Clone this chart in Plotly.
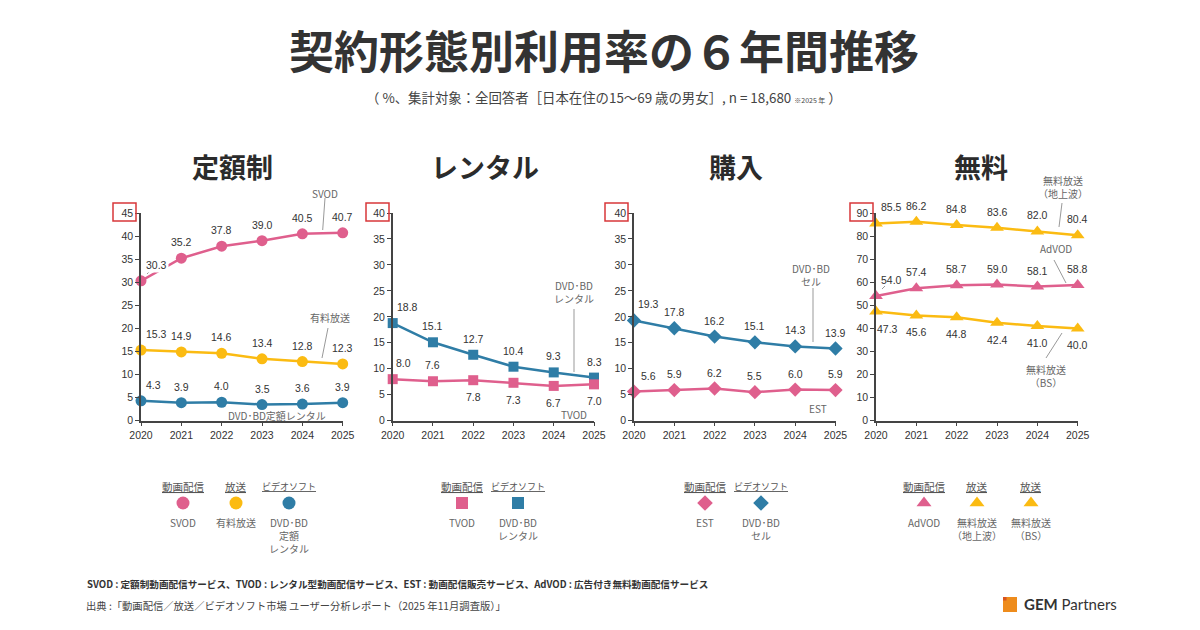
import plotly.graph_objects as go

YEARS = [2020, 2021, 2022, 2023, 2024, 2025]

SVOD = [30.3, 35.2, 37.8, 39.0, 40.5, 40.7]
PAID_TV = [15.3, 14.9, 14.6, 13.4, 12.8, 12.3]
DVD_FLAT = [4.3, 3.9, 4.0, 3.5, 3.6, 3.9]

DVD_RENTAL = [18.8, 15.1, 12.7, 10.4, 9.3, 8.3]
TVOD = [8.0, 7.6, 7.8, 7.3, 6.7, 7.0]

DVD_SELL = [19.3, 17.8, 16.2, 15.1, 14.3, 13.9]
EST = [5.6, 5.9, 6.2, 5.5, 6.0, 5.9]

FREE_TV = [85.5, 86.2, 84.8, 83.6, 82.0, 80.4]
ADVOD = [54.0, 57.4, 58.7, 59.0, 58.1, 58.8]
FREE_BS = [47.3, 45.6, 44.8, 42.4, 41.0, 40.0]

PINK = "#DF5F8D"
YELLOW = "#FBBB12"
BLUE = "#2F7DA6"
TXT = "#333333"
GREY = "#666666"
JP = "Noto Sans CJK JP"
LATIN = "Liberation Sans"

W, H = 1200, 630
BODY = 8  # default page margin around the plot div

# panel: title, left px, right px, ymax, dtick, title x, series (values, colour, symbol, size, first label dx, label dy)
panels = [
    ("定額制", 141, 342.7, 45, 5, 232, [
        (SVOD, PINK, "circle", 11, 15, 16),
        (PAID_TV, YELLOW, "circle", 11, 15, 16),
        (DVD_FLAT, BLUE, "circle", 11, 12, 16),
    ]),
    ("レンタル", 392.7, 594, 40, 5, 485, [
        (DVD_RENTAL, BLUE, "square", 10, 15, 16),
        (TVOD, PINK, "square", 10, 11, 16),
    ]),
    ("購入", 634, 835.5, 40, 5, 736, [
        (DVD_SELL, BLUE, "diamond", 11, 15, 16),
        (EST, PINK, "diamond", 11, 15, 16),
    ]),
    ("無料", 876, 1077.7, 90, 10, 981, [
        (FREE_TV, YELLOW, "triangle-up", 12, 15, 16),
        (ADVOD, PINK, "triangle-up", 12, 15, 16),
        (FREE_BS, YELLOW, "triangle-up", 12, 11, -17),
    ]),
]
Y_TOP, Y_BOTTOM = 213, 420.7

fig = go.Figure()
annotations = []
shapes = []


def px(x):
    return (x - BODY) / W


def py(y):
    return 1 - (y - BODY) / H


def put(x, y, text, size=10, color=GREY, family=JP, xanchor="center", yanchor="middle", **font_kw):
    annotations.append(dict(x=px(x), y=py(y), xref="paper", yref="paper", text=text, showarrow=False,
                            xanchor=xanchor, yanchor=yanchor,
                            font=dict(size=size, color=color, family=family, **font_kw)))


def leader(x0, y0, x1, y1):
    shapes.append(dict(type="line", xref="paper", yref="paper", x0=px(x0), y0=py(y0), x1=px(x1), y1=py(y1),
                       line=dict(color="#999999", width=1)))


for i, (title, left, right, ymax, dtick, title_x, series) in enumerate(panels, start=1):
    fig.update_layout({
        f"xaxis{i}": dict(domain=[px(left), px(right)], anchor=f"y{i}", range=[2020, 2025],
                          tickvals=YEARS, ticks="outside", ticklen=4, showgrid=False, zeroline=False,
                          showline=True, linecolor="#444444", linewidth=1.5, tickcolor="#444444",
                          tickfont=dict(size=10.5, color=TXT, family=LATIN)),
        f"yaxis{i}": dict(domain=[py(Y_BOTTOM), py(Y_TOP)], anchor=f"x{i}", range=[0, ymax],
                          dtick=dtick, ticks="outside", ticklen=4, showgrid=False, zeroline=False,
                          showline=True, linecolor="#444444", linewidth=1.5, tickcolor="#444444",
                          tickfont=dict(size=10.5, color=TXT, family=LATIN)),
    })
    for values, color, symbol, size, dx, dy in series:
        fig.add_trace(go.Scatter(x=YEARS, y=values, mode="lines+markers", xaxis=f"x{i}", yaxis=f"y{i}",
                                 line=dict(color=color, width=2.5),
                                 marker=dict(color=color, symbol=symbol, size=size),
                                 cliponaxis=False, showlegend=False))
    # value labels go after the traces so they stay on top
    for values, color, symbol, size, dx, dy in series:
        for j, (yr, v) in enumerate(zip(YEARS, values)):
            shift_y = dy
            if values is TVOD and j >= 2:
                shift_y = -17
            annotations.append(dict(x=yr, y=v, xref=f"x{i}", yref=f"y{i}", text=f"{v:.1f}", showarrow=False,
                                    xanchor="center", yanchor="middle",
                                    xshift=dx if j == 0 else 0, yshift=shift_y,
                                    bgcolor="white" if v == 30.3 else None,
                                    font=dict(size=10.5, color=TXT, family=LATIN)))
    put(title_x, 166, f"<b>{title}</b>", size=27, color="#2b2b2b")

# hidden axis in page pixels for the legend keys
fig.update_layout(
    xaxis5=dict(domain=[0, 1], range=[BODY, W + BODY], visible=False, anchor="y5", fixedrange=True),
    yaxis5=dict(domain=[0, 1], range=[H + BODY, BODY], visible=False, anchor="x5", fixedrange=True),
)

put(604, 50, "<b>契約形態別利用率の６年間推移</b>", size=45, color="#333333")
put(604, 97, "（ %、集計対象：全回答者［日本在住の15～69 歳の男女］, n = 18,680 <span style=\"font-size:7px\">※2025 年</span> ）",
    size=13.4, color="#444444")

# red boxes around the top tick
for x0 in [113, 366, 605, 850]:
    shapes.append(dict(type="rect", xref="paper", yref="paper", x0=px(x0), x1=px(x0 + 23), y0=py(203), y1=py(221),
                       line=dict(color="#D8373A", width=1.5)))

# callouts
put(325, 193, "SVOD")
leader(325, 198, 322.7, 230)
put(330, 317, "有料放送")
leader(328, 328, 322, 358)
put(277, 415, "DVD･BD定額レンタル")
put(574, 292, "DVD･BD<br>レンタル")
leader(574, 309, 574, 372)
put(574, 414, "TVOD")
put(811, 275, "DVD･BD<br>セル")
leader(813, 288, 813, 342)
put(818, 408, "EST")
put(1063, 187, "無料放送<br>（地上波）")
leader(1062, 203, 1059, 227)
put(1056, 249, "AdVOD")
leader(1054, 260, 1066, 283)
put(1046, 376, "無料放送<br>（BS）")
leader(1062, 333, 1046, 358)
leader(882, 289, 885, 286)
leader(147, 274, 150, 271)

# legend blocks
legend_items = [
    (183, "動画配信", "SVOD", PINK, "circle", 13),
    (236, "放送", "有料放送", YELLOW, "circle", 13),
    (289, "ビデオソフト", "DVD･BD<br>定額<br>レンタル", BLUE, "circle", 13),
    (462, "動画配信", "TVOD", PINK, "square", 12),
    (518, "ビデオソフト", "DVD･BD<br>レンタル", BLUE, "square", 12),
    (705, "動画配信", "EST", PINK, "diamond", 12),
    (761, "ビデオソフト", "DVD･BD<br>セル", BLUE, "diamond", 12),
    (924, "動画配信", "AdVOD", PINK, "triangle-up", 13),
    (977, "放送", "無料放送<br>（地上波）", YELLOW, "triangle-up", 13),
    (1031, "放送", "無料放送<br>（BS）", YELLOW, "triangle-up", 13),
]
for x, head, name, color, symbol, size in legend_items:
    put(x, 486, head, size=9 if head == "ビデオソフト" else 10.5, color="#555555", lineposition="under")
    fig.add_trace(go.Scatter(x=[x], y=[503], mode="markers", xaxis="x5", yaxis="y5", showlegend=False,
                             marker=dict(color=color, symbol=symbol, size=size)))
    put(x, 513, name, yanchor="top")

# footer
put(85, 584, "<b>SVOD : 定額制動画配信サービス、TVOD : レンタル型動画配信サービス、EST : 動画配信販売サービス、AdVOD : 広告付き無料動画配信サービス</b>",
    size=9.6, color="#333333", xanchor="left")
put(84, 605, "出典 :「動画配信／放送／ビデオソフト市場 ユーザー分析レポート（2025 年11月調査版）」", size=10.3, color="#444444", xanchor="left")

# logo
shapes.append(dict(type="rect", xref="paper", yref="paper", x0=px(1003), x1=px(1017), y0=py(597), y1=py(612),
                   fillcolor="#EE8C1C", line=dict(width=0)))
shapes.append(dict(type="rect", xref="paper", yref="paper", x0=px(1003), x1=px(1006.5), y0=py(597), y1=py(600.5),
                   fillcolor="#D9531E", line=dict(width=0)))
put(1022, 604, "<b>GEM</b> Partners", size=15, color="#333333", family="Lato", xanchor="left")

fig.update_layout(template="none", width=W, height=H, margin=dict(l=0, r=0, t=0, b=0), paper_bgcolor="white",
                  plot_bgcolor="rgba(0,0,0,0)", annotations=annotations, shapes=shapes, showlegend=False)

fig.write_html("out.html")
